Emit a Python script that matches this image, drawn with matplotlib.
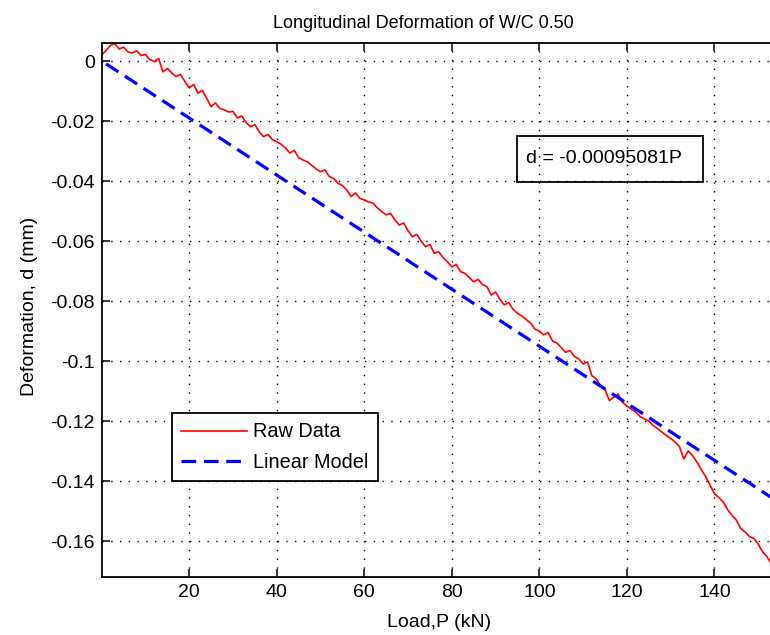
import matplotlib
matplotlib.use('Agg')
import matplotlib.pyplot as plt
from matplotlib.patches import Rectangle

plt.rcParams['font.family'] = ['Liberation Sans', 'DejaVu Sans']
plt.rcParams['axes.unicode_minus'] = False

load = [0, 1, 2, 3, 4, 5, 6, 7, 8, 9,
        10, 11, 12, 13, 14, 15, 16, 17, 18, 19,
        20, 21, 22, 23, 24, 25, 26, 27, 28, 29,
        30, 31, 32, 33, 34, 35, 36, 37, 38, 39,
        40, 41, 42, 43, 44, 45, 46, 47, 48, 49,
        50, 51, 52, 53, 54, 55, 56, 57, 58, 59,
        60, 61, 62, 63, 64, 65, 66, 67, 68, 69,
        70, 71, 72, 73, 74, 75, 76, 77, 78, 79,
        80, 81, 82, 83, 84, 85, 86, 87, 88, 89,
        90, 91, 92, 93, 94, 95, 96, 97, 98, 99,
        100, 101, 102, 103, 104, 105, 106, 107, 108, 109,
        110, 111, 112, 113, 114, 115, 116, 117, 118, 119,
        120, 121, 122, 123, 124, 125, 126, 127, 128, 129,
        130, 131, 132, 133, 134, 135, 136, 137, 138, 139,
        140, 141, 142, 143, 144, 145, 146, 147, 148, 149,
        150, 151, 152, 153]
deform = [0.0020, 0.0035, 0.0052, 0.0058, 0.0040, 0.0046, 0.0030, 0.0027, 0.0034, 0.0018,
          0.0022, 0.0005, -0.0002, 0.0008, -0.0036, -0.0025, -0.0040, -0.0052, -0.0045, -0.0068,
          -0.0090, -0.0078, -0.0107, -0.0098, -0.0125, -0.0152, -0.0140, -0.0158, -0.0163, -0.0170,
          -0.0168, -0.0190, -0.0183, -0.0205, -0.0219, -0.0212, -0.0236, -0.0252, -0.0245, -0.0262,
          -0.0269, -0.0278, -0.0290, -0.0307, -0.0298, -0.0322, -0.0330, -0.0336, -0.0348, -0.0360,
          -0.0369, -0.0363, -0.0385, -0.0392, -0.0408, -0.0415, -0.0430, -0.0452, -0.0440, -0.0458,
          -0.0463, -0.0470, -0.0474, -0.0490, -0.0502, -0.0513, -0.0508, -0.0530, -0.0547, -0.0540,
          -0.0566, -0.0586, -0.0578, -0.0600, -0.0619, -0.0612, -0.0641, -0.0636, -0.0655, -0.0670,
          -0.0686, -0.0678, -0.0702, -0.0708, -0.0722, -0.0736, -0.0728, -0.0745, -0.0752, -0.0780,
          -0.0770, -0.0795, -0.0813, -0.0805, -0.0828, -0.0841, -0.0850, -0.0862, -0.0874, -0.0894,
          -0.0900, -0.0913, -0.0905, -0.0933, -0.0940, -0.0955, -0.0971, -0.0965, -0.0985, -0.0993,
          -0.1010, -0.1003, -0.1049, -0.1060, -0.1082, -0.1095, -0.1132, -0.1120, -0.1110, -0.1138,
          -0.1150, -0.1160, -0.1170, -0.1185, -0.1193, -0.1200, -0.1215, -0.1225, -0.1237, -0.1248,
          -0.1258, -0.1270, -0.1285, -0.1326, -0.1300, -0.1315, -0.1337, -0.1362, -0.1385, -0.1414,
          -0.1442, -0.1455, -0.1470, -0.1495, -0.1514, -0.1530, -0.1558, -0.1570, -0.1585, -0.1591,
          -0.1610, -0.1636, -0.1652, -0.1675]

# linear model d = -0.00095081 P, end points
model_load = [1.0, 153.0]
model_deform = [-0.00095, -0.14547]

x_ticks = [20, 40, 60, 80, 100, 120, 140]
x_labels = ['20', '40', '60', '80', '100', '120', '140']
y_ticks = [0, -0.02, -0.04, -0.06, -0.08, -0.1, -0.12, -0.14, -0.16]
y_labels = ['0', '-0.02', '-0.04', '-0.06', '-0.08', '-0.1', '-0.12', '-0.14', '-0.16']

W, H = 770, 635
fig = plt.figure(figsize=(W / 100, H / 100), dpi=100)
ax = fig.add_axes([101.7 / W, (H - 576.7) / H, 1 - 101.7 / W, 534 / H])

ax.plot(load, deform, color=(1, 0, 0), lw=1.2, label='Raw Data')
ax.plot(model_load, model_deform, color=(0, 0, 1), lw=2.3, dashes=(4.6, 2.4),
        label='Linear Model')

ax.set_xlim(0, 152.7)
ax.set_ylim(-0.1719, 0.0061)
ax.set_xticks(x_ticks)
ax.set_xticklabels(x_labels)
ax.set_yticks(y_ticks)
ax.set_yticklabels(y_labels)
ax.tick_params(direction='in', length=6, width=1.1, labelsize=14, pad=5,
               top=True, right=False, color='black')
ax.grid(True, color='black', lw=1.0, linestyle=(0, (1, 5.3)))
for s in ['left', 'bottom', 'top']:
    ax.spines[s].set_linewidth(1.3)
ax.spines['right'].set_visible(False)

leg = ax.legend(loc='lower left', bbox_to_anchor=(0.1047, 0.179), borderaxespad=0,
                fontsize=14.3, handlelength=3.3, handletextpad=0.3, labelspacing=0.56,
                borderpad=0.48, fancybox=False, framealpha=1, edgecolor='black')
leg.get_frame().set_linewidth(1.3)

fig.text(423 / W, 1 - 28 / H, 'Longitudinal Deformation of W/C 0.50',
         ha='center', va='baseline', fontsize=13)
fig.text(439 / W, 1 - 626.7 / H, 'Load,P (kN)', ha='center', va='baseline', fontsize=14)
fig.text(34 / W, 1 - 306.7 / H, 'Deformation, d (mm)', rotation=90, rotation_mode='anchor',
         ha='center', va='baseline', fontsize=14)

fig.patches.append(Rectangle((516.7 / W, 1 - 181.7 / H), 186 / W, 45.7 / H,
                             transform=fig.transFigure, fill=False, ec='black', lw=1.3))
fig.text(526 / W, 1 - 158.8 / H, 'd = -0.00095081P', ha='left', va='center', fontsize=14)

fig.savefig('out.png', dpi=100)
